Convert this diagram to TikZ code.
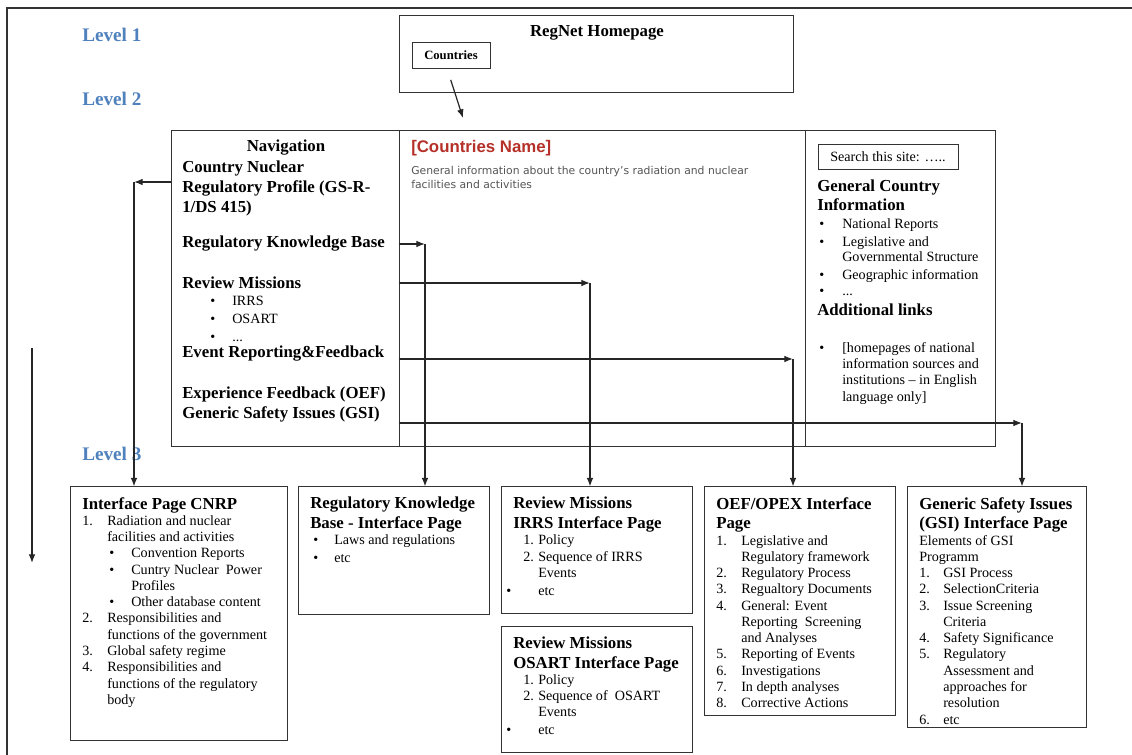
\documentclass[tikz,border=0pt]{standalone}
\usepackage{fontspec}
\setmainfont{Liberation Serif}
\newfontfamily\arialfont{Liberation Sans}
\newfontfamily\verdanafont{DejaVu Sans}
\usepackage{tikz}
\usetikzlibrary{arrows.meta,fit,calc}
\definecolor{levelblue}{RGB}{79,129,189}
\definecolor{namered}{RGB}{181,48,40}
\definecolor{infogray}{RGB}{85,85,85}
\newdimen\px \px=0.75pt
\newcommand{\headfont}{\fontsize{12.6}{14.8}\selectfont\bfseries}
\newcommand{\listfont}{\fontsize{10.6}{12.2}\selectfont}
\newcommand{\itm}[4]{\hspace*{#1\px}\makebox[#2\px][l]{#3}#4}
\tikzset{
  flowarrow/.style={-{Latex[length=6.5pt,width=5pt]}, line width=0.9pt, black!85},
  boxframe/.style={draw=black!80, line width=0.75pt, inner sep=0pt},
  headtext/.style={font=\headfont, align=left, anchor=north west, inner sep=0pt},
  listtext/.style={font=\listfont, align=left, anchor=north west, inner sep=0pt},
  leveltext/.style={font=\fontsize{14.4}{16}\selectfont\bfseries, text=levelblue, anchor=west, inner sep=0pt}
}

\begin{document}
\begin{tikzpicture}[x=0.75pt, y=-0.75pt]
  \useasboundingbox (0,0) rectangle (1132,755);
  \draw[draw=black!80, line width=1.2pt] (7,755) -- (7,8) -- (1132,8);

  \node[leveltext] (lev1) at (82,35) {Level 1};
  \node[leveltext] (lev2) at (82,99) {Level 2};
  \node[leveltext] (lev3) at (82,454) {Level 3};

  % level 1
  \node[boxframe, fit={(399,16) (793,93)}] (homepage) {};
  \node[font=\headfont, inner sep=0pt] (hometitle) at (597,33) {RegNet Homepage};
  \node[draw=black!80, line width=0.7pt, minimum width=58.5pt, minimum height=19.5pt, font=\fontsize{9.5}{11}\selectfont\bfseries] (countries) at (451,55) {Countries};

  % level 2
  \node[boxframe, fit={(171,131) (399,447)}] (navcell) {};
  \node[boxframe, fit={(399,131) (805,447)}] (infocell) {};
  \node[boxframe, fit={(805,131) (995,447)}] (sidecell) {};

  \node[font=\headfont, inner sep=0pt] (navtitle) at (286,148) {Navigation};
  \node[headtext] (navcnrp) at (182,161) {Country Nuclear\\Regulatory Profile (GS-R-\\1/DS 415)};
  \node[headtext, anchor=west] (navrkb) at (182,244) {Regulatory Knowledge Base};
  \node[headtext, anchor=west] (navrm) at (182,283) {Review Missions};
  \node[listtext] (navrmlist) at (182,296) {\itm{28}{22}{\textbullet}{IRRS}\\[1.3pt]
    \itm{28}{22}{\textbullet}{OSART}\\[1.3pt]
    \itm{28}{22}{\textbullet}{...}};
  \node[headtext, anchor=west] (naverf) at (182,354) {Event Reporting\&Feedback};
  \node[headtext] (navoef) at (182,387) {Experience Feedback (OEF)\\Generic Safety Issues (GSI)};

  \node[font=\arialfont\bfseries\fontsize{12.6}{14}\selectfont, text=namered, anchor=west, inner sep=0pt] (cname) at (411,148) {[Countries Name]};
  \node[font=\verdanafont\fontsize{8.1}{10.5}\selectfont, text=infogray, align=left, anchor=north west, inner sep=0pt] (cinfo) at (411,166) {General information about the country’s radiation and nuclear\\facilities and activities};

  \node[draw=black!80, line width=0.7pt, minimum width=105pt, minimum height=18.75pt, font=\listfont] (search) at (888,157) {Search this site: …..};
  \node[listtext] (sidetxt) at (817,180) {{\headfont General Country}\\[2pt]
    {\headfont Information}\\[0.9pt]
    \itm{2}{23}{\textbullet}{National Reports}\\[1.1pt]
    \itm{2}{23}{\textbullet}{Legislative and}\\[-0.5pt]
    \itm{2}{23}{}{Governmental Structure}\\[1.1pt]
    \itm{2}{23}{\textbullet}{Geographic information}\\
    \itm{2}{23}{\textbullet}{...}\\[2.7pt]
    {\headfont Additional links}\\[15.5pt]
    \itm{2}{23}{\textbullet}{[homepages of national}\\
    \itm{2}{23}{}{information sources and}\\
    \itm{2}{23}{}{institutions – in English}\\
    \itm{2}{23}{}{language only]}};

  % level 3
  \node[boxframe, fit={(70,487) (287,740)}] (cnrp) {};
  \node[boxframe, fit={(298,487) (489,614)}] (rkb) {};
  \node[boxframe, fit={(501,487) (692,613)}] (irrs) {};
  \node[boxframe, fit={(501,626) (692,752)}] (osart) {};
  \node[boxframe, fit={(704,487) (895,715)}] (oef) {};
  \node[boxframe, fit={(907,487) (1086,727)}] (gsi) {};

  \node[listtext] (cnrptxt) at (82,497) {{\headfont Interface Page CNRP}\\
    \itm{0}{25}{1.}{Radiation and nuclear}\\
    \itm{0}{25}{}{facilities and activities}\\
    \itm{27}{22}{\textbullet}{Convention Reports}\\
    \itm{27}{22}{\textbullet}{Cuntry Nuclear\ \ Power}\\
    \itm{27}{22}{}{Profiles}\\
    \itm{27}{22}{\textbullet}{Other database content}\\
    \itm{0}{25}{2.}{Responsibilities and}\\
    \itm{0}{25}{}{functions of the government}\\
    \itm{0}{25}{3.}{Global safety regime}\\
    \itm{0}{25}{4.}{Responsibilities and}\\
    \itm{0}{25}{}{functions of the regulatory}\\
    \itm{0}{25}{}{body}};
  \node[listtext] (rkbtxt) at (310,497) {{\headfont Regulatory Knowledge}\\[2.6pt]
    {\headfont Base - Interface Page}\\
    \itm{3}{21}{\textbullet}{Laws and regulations}\\[1pt]
    \itm{3}{21}{\textbullet}{etc}};
  \node[listtext] (irrstxt) at (513,497) {{\headfont Review Missions}\\[2.6pt]
    {\headfont IRRS Interface Page}\\
    \itm{10}{15}{1.}{Policy}\\
    \itm{10}{15}{2.}{Sequence of IRRS}\\
    \itm{10}{15}{}{Events}\\[1.1pt]
    \itm{-7}{32}{\textbullet}{etc}};
  \node[listtext] (osarttxt) at (513,637) {{\headfont Review Missions}\\[2.2pt]
    {\headfont OSART Interface Page}\\
    \itm{10}{15}{1.}{Policy}\\
    \itm{10}{15}{2.}{Sequence of\ \ OSART}\\
    \itm{10}{15}{}{Events}\\[1.1pt]
    \itm{-7}{32}{\textbullet}{etc}};
  \node[listtext] (oeftxt) at (716,497) {{\headfont OEF/OPEX Interface}\\[2.6pt]
    {\headfont Page}\\
    \itm{0}{25}{1.}{Legislative and}\\
    \itm{0}{25}{}{Regulatory framework}\\
    \itm{0}{25}{2.}{Regulatory Process}\\
    \itm{0}{25}{3.}{Regualtory Documents}\\
    \itm{0}{25}{4.}{General: Event}\\
    \itm{0}{25}{}{Reporting\ \ Screening}\\
    \itm{0}{25}{}{and Analyses}\\
    \itm{0}{25}{5.}{Reporting of Events}\\
    \itm{0}{25}{6.}{Investigations}\\
    \itm{0}{25}{7.}{In depth analyses}\\
    \itm{0}{25}{8.}{Corrective Actions}};
  \node[listtext] (gsitxt) at (919,497) {{\headfont Generic Safety Issues}\\[2.6pt]
    {\headfont (GSI) Interface Page}\\
    Elements of GSI\\
    Programm\\
    \itm{0}{24}{1.}{GSI Process}\\
    \itm{0}{24}{2.}{SelectionCriteria}\\
    \itm{0}{24}{3.}{Issue Screening}\\
    \itm{0}{24}{}{Criteria}\\
    \itm{0}{24}{4.}{Safety Significance}\\
    \itm{0}{24}{5.}{Regulatory}\\
    \itm{0}{24}{}{Assessment and}\\
    \itm{0}{24}{}{approaches for}\\
    \itm{0}{24}{}{resolution}\\
    \itm{0}{24}{6.}{etc}};

  % links
  \coordinate (landing) at (463,118);
  \coordinate (cnrpbend) at (134,182);
  \coordinate (rkbbend) at (425,244);
  \coordinate (rmbend) at (590,283);
  \coordinate (erfbend) at (793,359);
  \coordinate (gsibend) at (1022,423);
  \coordinate (flowtop) at (32,348);
  \coordinate (flowbot) at (32,563);

  \draw[flowarrow, shorten <=9pt] ([xshift=-3pt]countries.south) -- (landing);
  \draw[flowarrow] (navcell.west |- cnrpbend) -- (cnrpbend);
  \draw[flowarrow] (cnrpbend) -- (cnrp.north -| cnrpbend);
  \draw[flowarrow] (infocell.west |- rkbbend) -- (rkbbend);
  \draw[flowarrow] (rkbbend) -- (rkb.north -| rkbbend);
  \draw[flowarrow] (infocell.west |- rmbend) -- (rmbend);
  \draw[flowarrow] (rmbend) -- (irrs.north -| rmbend);
  \draw[flowarrow] (infocell.west |- erfbend) -- (erfbend);
  \draw[flowarrow] (erfbend) -- (oef.north -| erfbend);
  \draw[flowarrow] (infocell.west |- gsibend) -- (gsibend);
  \draw[flowarrow] (gsibend) -- (gsi.north -| gsibend);
  \draw[flowarrow] (flowtop) -- (flowbot);
\end{tikzpicture}
\end{document}
